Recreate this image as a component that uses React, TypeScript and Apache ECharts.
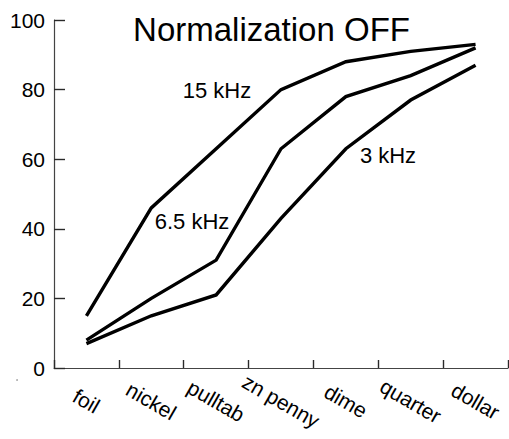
import React, { useEffect, useRef } from "react";
import * as echarts from "echarts";

const categories = ["foil", "nickel", "pulltab", "zn penny", "dime", "quarter", "dollar"];
const khz15 = [15, 46, 63, 80, 88, 91, 93];
const khz65 = [8, 20, 31, 63, 78, 84, 92];
const khz3 = [7, 15, 21, 43, 63, 77, 87];
const yTicks = { min: 0, max: 100, interval: 20 };
const titleText = "Normalization OFF";
const annotations = [
  { text: "15 kHz", x: 217, y: 90 },
  { text: "6.5 kHz", x: 192, y: 221 },
  { text: "3 kHz", x: 388, y: 155 },
];

const FONT = "'Liberation Sans', Arial, Helvetica, sans-serif";
const AXIS_COLOR = "#444444";
const TICK_COLOR = "#2a2a2a";

export default function App() {
  const ref = useRef<HTMLDivElement>(null);
  useEffect(() => {
    if (!ref.current) return;
    const chart = echarts.init(ref.current, null, { renderer: "svg" });
    const lineStyle = { color: "#000", width: 3.4, join: "miter" as const };
    const mk = (name: string, data: number[]) => ({
      name,
      type: "line" as const,
      data,
      symbol: "none",
      lineStyle,
      itemStyle: { color: "#000" },
    });
    chart.setOption({
      animation: false,
      grid: { left: 54, right: 1, top: 20, bottom: 71 },
      xAxis: {
        type: "category",
        data: categories,
        axisLine: { show: true, lineStyle: { color: AXIS_COLOR, width: 1.2 } },
        axisTick: { show: true, inside: true, length: 8, lineStyle: { color: TICK_COLOR, width: 1.4 } },
        axisLabel: {
          rotate: -30,
          align: "center",
          verticalAlign: "middle",
          margin: 33,
          fontSize: 21,
          color: "#000",
          fontFamily: FONT,
          interval: 0,
        },
      },
      yAxis: {
        type: "value",
        min: yTicks.min,
        max: yTicks.max,
        interval: yTicks.interval,
        axisLine: { show: true, lineStyle: { color: AXIS_COLOR, width: 1.2 } },
        axisTick: { show: true, inside: true, length: 11, lineStyle: { color: TICK_COLOR, width: 1.4 } },
        axisLabel: {
          fontSize: 21,
          color: "#000",
          fontFamily: FONT,
          margin: 9,
          padding: [8, 0, 0, 0],
        },
        splitLine: { show: true, lineStyle: { color: "rgba(255,255,255,0)" } },
      },
      series: [mk("15 kHz", khz15), mk("6.5 kHz", khz65), mk("3 kHz", khz3)],
      graphic: [
        {
          type: "text",
          x: 271.5,
          y: 29,
          style: {
            text: titleText,
            fontSize: 33,
            fontFamily: FONT,
            fill: "#000",
            textAlign: "center",
            textVerticalAlign: "middle",
          },
        },
        ...annotations.map((a) => ({
          type: "text",
          x: a.x,
          y: a.y,
          style: {
            text: a.text,
            fontSize: 22,
            fontFamily: FONT,
            fill: "#000",
            textAlign: "center",
            textVerticalAlign: "middle",
          },
        })),
        { type: "circle", shape: { cx: 17, cy: 380, r: 0.8 }, style: { fill: "#999" } },
      ],
    });
    return () => chart.dispose();
  }, []);
  return (
    <div
      ref={ref}
      style={{ position: "fixed", left: 0, top: 0, width: 509, height: 439, background: "#fff" }}
    />
  );
}
